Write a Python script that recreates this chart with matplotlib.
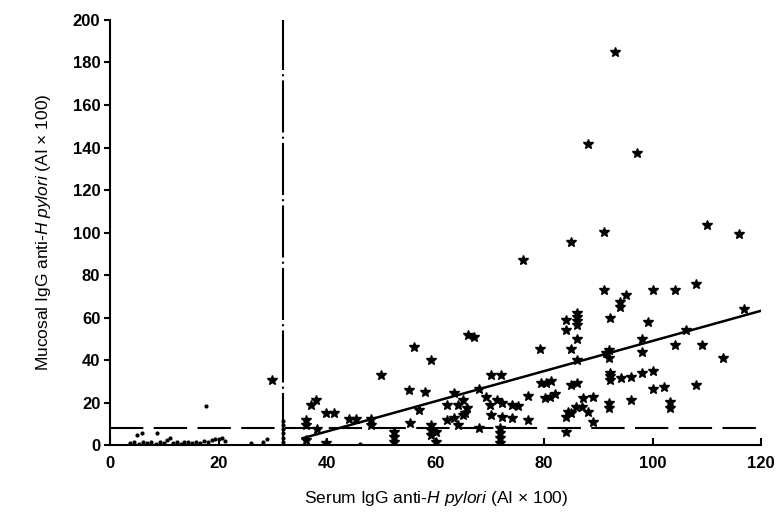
import matplotlib
matplotlib.use('Agg')
import matplotlib.pyplot as plt

plt.rcParams['font.family'] = ['Liberation Sans', 'DejaVu Sans']
plt.rcParams['mathtext.fontset'] = 'custom'
plt.rcParams['mathtext.rm'] = 'Liberation Sans'
plt.rcParams['mathtext.it'] = 'Liberation Sans:italic'

# seropositive patients (stars)
star_x = [93.0, 88.1, 97.1, 91.0, 84.9, 76.1, 110.0, 115.9, 91.1, 95.1,
          100.0, 104.1, 108.0, 93.9, 93.9, 116.8, 99.1, 106.1, 104.1, 109.0,
          113.0, 100.0, 100.0, 102.0, 108.0, 103.1, 103.1, 92.1, 84.1, 86.1,
          86.1, 86.1, 86.1, 84.1, 86.1, 84.9, 79.2, 86.1, 91.9, 91.9,
          91.4, 98.0, 98.0, 92.1, 92.1, 92.1, 94.1, 96.0, 98.0, 96.0,
          91.9, 91.9, 79.5, 80.4, 81.3, 80.1, 81.0, 82.0, 85.0, 86.1,
          87.2, 89.0, 84.4, 84.1, 85.0, 85.9, 86.9, 88.0, 89.0, 84.1,
          66.0, 67.0, 59.2, 70.2, 72.0, 67.9, 63.3, 77.0, 62.1, 64.2,
          65.1, 65.7, 65.4, 65.1, 69.2, 70.0, 71.3, 72.2, 74.0, 75.2,
          70.2, 72.2, 74.0, 62.1, 63.3, 64.2, 67.9, 71.9, 71.9, 71.9,
          71.9, 77.1, 59.2, 59.2, 59.2, 60.0, 60.0, 56.1, 50.0, 55.0,
          58.1, 57.0, 55.2, 37.0, 37.9, 39.8, 41.3, 36.1, 36.1, 38.2,
          44.0, 45.3, 48.0, 48.0, 36.1, 39.8, 52.3, 52.3, 52.3, 29.8]
star_y = [185.0, 141.6, 137.4, 100.2, 95.5, 87.0, 103.5, 99.3, 72.8, 70.8,
          73.0, 73.0, 75.8, 67.5, 65.1, 63.8, 58.0, 54.1, 47.0, 47.0,
          41.0, 35.0, 26.2, 27.1, 28.2, 20.4, 17.3, 59.9, 58.8, 62.0,
          60.4, 58.4, 56.5, 54.1, 49.9, 45.0, 45.0, 40.0, 44.7, 40.8,
          43.1, 49.7, 43.9, 34.0, 32.5, 30.6, 31.4, 32.1, 34.0, 21.2,
          19.6, 17.3, 29.0, 29.3, 30.1, 22.0, 22.7, 24.0, 28.2, 29.0,
          22.0, 22.7, 15.7, 13.3, 14.9, 17.7, 18.0, 15.7, 11.0, 6.3,
          52.0, 51.0, 40.0, 32.9, 32.9, 26.2, 24.6, 23.0, 18.8, 18.8,
          21.2, 17.3, 14.9, 14.1, 22.7, 18.8, 21.2, 19.9, 18.8, 18.4,
          14.1, 13.0, 12.6, 11.8, 12.6, 9.4, 8.1, 7.8, 5.5, 3.1,
          0.8, 11.8, 9.4, 7.1, 4.7, 6.3, 1.6, 46.0, 32.9, 25.9,
          25.1, 16.5, 10.2, 18.8, 21.2, 14.9, 14.9, 11.8, 9.4, 7.4,
          12.1, 12.1, 12.1, 9.4, 2.4, 0.8, 6.3, 3.9, 1.6, 30.6]

# seronegative patients (dots)
dot_x = [4.9, 5.8, 8.7, 17.7, 46.0, 26.0, 28.1, 28.9,
         3.7, 4.5, 5.3, 6.0, 6.8, 7.6, 8.4, 9.2, 10.0, 10.5, 11.0, 11.6, 12.3,
         13.0, 13.7, 14.4, 15.1, 15.9, 16.6, 17.3, 18.0, 18.7, 19.3, 20.0,
         20.6, 21.2, 31.8, 31.8, 31.8, 31.8, 31.8, 31.8]
dot_y = [4.7, 5.8, 5.8, 18.5, 0.5, 1.1, 1.6, 2.7,
         0.8, 1.2, 0.5, 1.5, 0.8, 1.6, 0.6, 1.2, 1.0, 2.5, 3.5, 1.0, 1.4,
         0.7, 1.6, 1.2, 0.8, 1.5, 1.1, 2.0, 1.3, 2.2, 3.0, 2.6,
         3.4, 2.0, 1.5, 3.5, 5.5, 7.5, 9.5, 11.5]

# regression line and cut-off values
fit_x = [35.5, 120.0]
slope, intercept = 0.71, -22.0
serum_cutoff = 31.8
mucosal_cutoff = 8.0

fig = plt.figure(figsize=(7.76, 5.18), dpi=100)
ax = fig.add_axes([0.1418, 0.1409, 0.8392, 0.8205])

ax.plot(star_x, star_y, linestyle='none', marker='*', color='black', markersize=7.5)
ax.plot(dot_x, dot_y, linestyle='none', marker='o', color='black', markersize=2)

ax.plot(fit_x, [slope * v + intercept for v in fit_x], color='black', linewidth=1.8)
ax.axhline(mucosal_cutoff, color='black', linewidth=1.5, dashes=(16, 5))
ax.axvline(serum_cutoff, color='black', linewidth=1.5, dashes=(25, 2, 1, 2))

ax.set_xlim(0, 120)
ax.set_ylim(0, 200)
ax.set_xticks(range(0, 121, 20))
ax.set_yticks(range(0, 201, 20))

for side in ['top', 'right']:
    ax.spines[side].set_visible(False)
for side in ['left', 'bottom']:
    ax.spines[side].set_linewidth(1.5)

ax.tick_params(axis='x', direction='in', length=5, width=1.5, labelsize=12, pad=8)
ax.tick_params(axis='y', direction='out', length=4, width=1.5, labelsize=12, pad=3)
for lab in ax.get_xticklabels() + ax.get_yticklabels():
    lab.set_fontweight('bold')

ax.set_xlabel(r'Serum IgG anti-$\it{H\ pylori}$ (AI $\times$ 100)', fontsize=12.5, labelpad=13)
ax.set_ylabel(r'Mucosal IgG anti-$\it{H\ pylori}$ (AI $\times$ 100)', fontsize=12.5, labelpad=14)

fig.savefig('out.png', dpi=100, facecolor='white')
